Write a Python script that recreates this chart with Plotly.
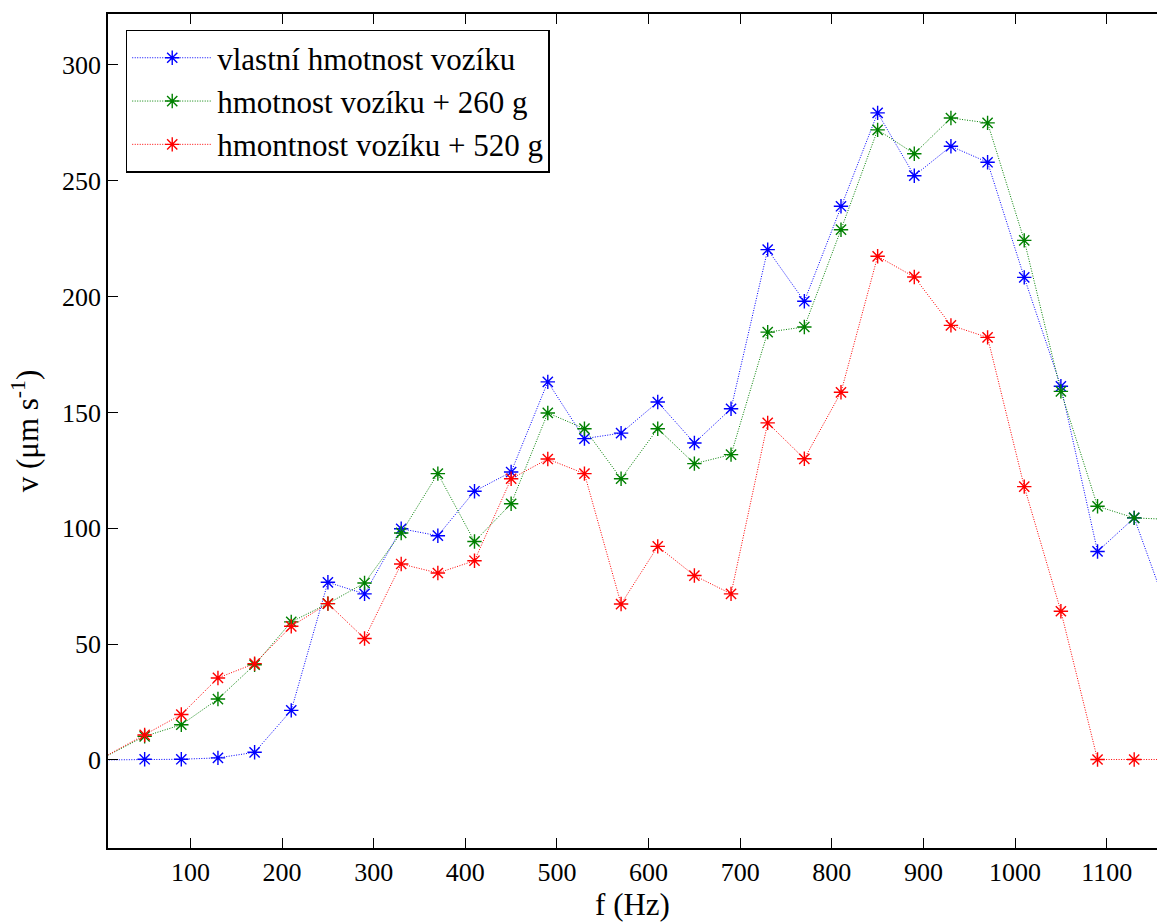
import plotly.graph_objects as go

# Frequencies (Hz)
freqs = [0, 50, 90, 130, 170, 210, 250, 290, 330, 370, 410, 450, 490, 530, 570,
         610, 650, 690, 730, 770, 810, 850, 890, 930, 970, 1010, 1050, 1090, 1130, 1170]

# Velocity amplitudes (um/s)
v_vlastni = [0, 0.3, 0.3, 0.9, 3.3, 21.4, 76.7, 71.7, 99.8, 96.8, 116.0, 124.3, 163.2, 138.7, 141.1,
             154.5, 136.8, 151.6, 220.3, 198.0, 239.0, 279.3, 252.2, 264.9, 258.0, 208.3, 161.3, 90.0, 104.5, 60.6]
v_260 = [0, 10.2, 15.2, 26.3, 41.1, 59.6, 67.5, 76.4, 98.0, 123.6, 94.3, 110.6, 149.8, 143.0, 121.4,
         143.0, 127.9, 131.8, 184.7, 186.9, 228.9, 272.0, 261.7, 277.1, 275.0, 224.3, 159.1, 109.5, 104.5, 103.8]
v_520 = [0, 10.8, 19.6, 35.4, 41.6, 57.7, 67.5, 52.4, 84.6, 80.7, 86.0, 121.4, 129.9, 123.6, 67.3,
         92.2, 79.6, 71.7, 145.5, 130.0, 158.7, 217.4, 208.5, 187.6, 182.4, 118.0, 64.2, 0.2, 0.2, 0.2]

series_names = ["vlastní hmotnost vozíku", "hmotnost vozíku + 260 g", "hmontnost vozíku + 520 g"]
series_colors = ["#0000ff", "#008000", "#ff0000"]

x_ticks = [100, 200, 300, 400, 500, 600, 700, 800, 900, 1000, 1100]
y_ticks = [0, 50, 100, 150, 200, 250, 300]

fig = go.Figure()
for name, vals, color in zip(series_names, [v_vlastni, v_260, v_520], series_colors):
    fig.add_trace(go.Scatter(
        x=freqs, y=vals, mode="lines+markers", name=name,
        line=dict(color=color, width=1, dash="1px,1.5px"),
        marker=dict(symbol="asterisk", size=12, color=color,
                    line=dict(color=color, width=1.4)),
    ))

font_family = "Liberation Serif"
fig.update_layout(
    width=1157, height=924,
    margin=dict(l=108, r=0, t=14, b=76),
    plot_bgcolor="white", paper_bgcolor="white",
    font=dict(family=font_family, size=26, color="black"),
    showlegend=True,
    legend=dict(
        x=0.0169, y=0.9813, xanchor="left", yanchor="top",
        bgcolor="white", bordercolor="black", borderwidth=1.5,
        font=dict(family=font_family, size=31, color="black"),
        itemwidth=80,
    ),
)
fig.update_xaxes(
    range=[10, 1154.9], tickmode="array", tickvals=x_ticks,
    ticks="inside", ticklen=10, tickwidth=1, tickcolor="black",
    showline=True, linecolor="black", linewidth=1.5, mirror="ticks",
    showgrid=False, zeroline=False,
    title=dict(text="f (Hz)", standoff=6),
)
fig.update_yaxes(
    range=[-38, 322], tickmode="array", tickvals=y_ticks,
    ticks="inside", ticklen=10, tickwidth=1, tickcolor="black",
    showline=True, linecolor="black", linewidth=1.5,
    showgrid=False, zeroline=False,
    title=dict(text="v (μm s<sup>-1</sup>)", standoff=14),
)

fig.write_html("out.html")
